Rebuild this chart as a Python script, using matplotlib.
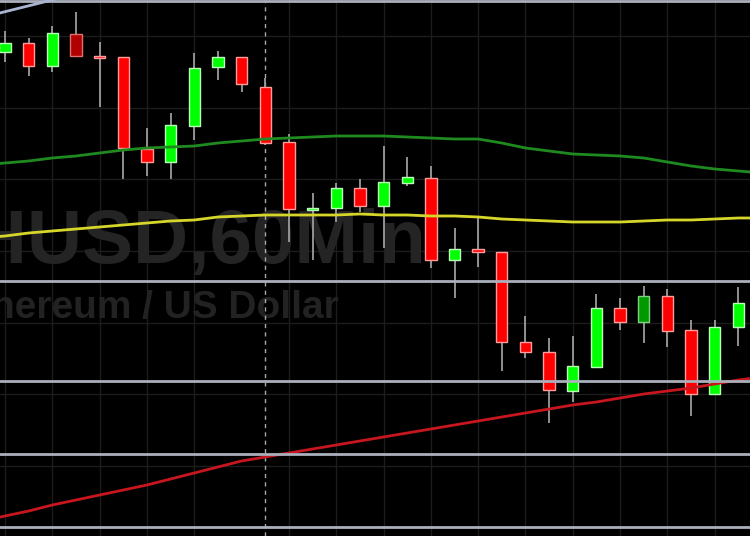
import numpy as np
import matplotlib
matplotlib.use('Agg')
from matplotlib import pyplot as plt

# hourly candles (USD)
opens  = [1874, 1878.5, 1867, 1883, 1872, 1871.5, 1825.5, 1819, 1837, 1866.5, 1871.5, 1856.5,
          1829, 1795, 1796, 1806, 1797, 1808.5, 1811, 1770, 1775.5, 1774, 1729, 1724,
          1704.5, 1716.5, 1746, 1739, 1752, 1735, 1703, 1736.5]
highs  = [1884.5, 1881, 1887, 1894, 1879, 1871.5, 1836, 1843.5, 1873.5, 1874.5, 1871.5, 1861,
          1833, 1803.5, 1808.5, 1810.5, 1827, 1821.5, 1817, 1786, 1791, 1774, 1742, 1731,
          1732, 1753, 1751, 1757, 1755.5, 1740, 1740, 1756.5]
lows   = [1869, 1862, 1864, 1872, 1846.5, 1810.5, 1812, 1810.5, 1830, 1860, 1854, 1827.5,
          1779, 1770, 1789, 1794, 1776, 1807, 1766, 1751, 1766.5, 1714.5, 1721, 1688.5,
          1699, 1716, 1735, 1728.5, 1726.5, 1692, 1703, 1727]
closes = [1878.5, 1867, 1883.5, 1872, 1871, 1826, 1819, 1837.5, 1866, 1871.5, 1858, 1828.5,
          1795.5, 1796, 1806, 1797, 1809, 1811.5, 1770, 1775.5, 1774, 1729, 1724, 1705,
          1717, 1746, 1739, 1752, 1734.5, 1703, 1736.5, 1748.5]

# moving averages, one value per bar plus one beyond each edge
ma_green = [1817.5, 1818.5, 1819.5, 1821, 1822, 1823.5, 1825, 1826, 1826.5, 1827, 1828.5, 1829.5,
            1830.5, 1831, 1831.5, 1832, 1832, 1832, 1831.5, 1831, 1830.5, 1830.5, 1828.5, 1826,
            1824.5, 1823, 1822.5, 1822, 1821, 1819, 1817, 1815.5, 1814.5, 1813.5]
ma_yellow = [1781, 1782, 1783.5, 1784.5, 1785.5, 1786.5, 1787.5, 1788.5, 1789.5, 1790, 1791.5, 1792,
             1792.5, 1792.5, 1792.5, 1792.5, 1793, 1792.5, 1792.5, 1792, 1792, 1791.5, 1790.5, 1790,
             1789.5, 1789, 1789, 1789, 1789.5, 1790, 1790, 1790.5, 1791, 1791]
ma_red = [1639.5, 1642, 1644.5, 1647.5, 1650, 1652.5, 1655, 1657.5, 1660.5, 1663.5, 1666.5, 1669.5,
          1671.5, 1673.5, 1675.5, 1677.5, 1679.5, 1681.5, 1683.5, 1685.5, 1687.5, 1689.5, 1691.5, 1693.5,
          1695.5, 1697.5, 1699, 1701, 1703, 1704.5, 1706, 1708, 1710, 1711.5]

levels = [1899.75, 1759.5, 1709.75, 1673, 1636.75]
channel_x = [-1, 3]
channel_y = [1891.2, 1903]
dim_bars = [3, 27]
session_bar = 11

o = np.array(opens); h = np.array(highs); l = np.array(lows); c = np.array(closes)
x = np.arange(len(o))
xm = np.arange(-1, len(o) + 1)

fig = plt.figure(figsize=(7.5, 5.36), dpi=100, facecolor='black')
ax = fig.add_axes([0, 0, 1, 1])
ax.set_facecolor('black')
ax.set_xlim(-0.211, 31.49)
ax.set_ylim(1632, 1900)

# grid
for gx in x[::2]:
    if gx != 10:
        ax.axvline(gx, color='#1c1c1c', lw=1, zorder=0)
for gy in np.arange(1882, 1625, -35.85):
    ax.axhline(gy, color='#1c1c1c', lw=1, zorder=0)
ax.axvline(session_bar, color='#a8a8a8', lw=1, dashes=(3, 3), zorder=0.8)

# watermark
ax.text(0.569, 0.509, 'ETHUSD,60Min', transform=ax.transAxes, ha='right', va='baseline',
        fontsize=55, fontweight='bold', family='Liberation Sans', color='#242424', zorder=0.5)
ax.text(0.451, 0.407, 'Ethereum / US Dollar', transform=ax.transAxes, ha='right', va='baseline',
        fontsize=28, fontweight='bold', family='Liberation Sans', color='#222222', zorder=0.5)

# candles
up = c >= o
body_lo = np.minimum(o, c)
body_h = np.maximum(np.abs(c - o), 1.0)
face = np.where(up, '#00ff00', '#ff0000').astype(object)
edge = np.where(up, '#b8ffb8', '#ff9c9c').astype(object)
for i in dim_bars:
    face[i] = '#009a00' if up[i] else '#b00000'
    edge[i] = '#80d080' if up[i] else '#e07070'
ax.vlines(x, l, h, color='#9c9c9c', lw=1.3, zorder=1.5)
ax.bar(x, body_h, bottom=body_lo, width=0.48, color=list(face), edgecolor=list(edge),
       linewidth=1, zorder=2)

# indicator lines
ax.plot(xm, ma_green, color='#1f8a1f', lw=2, zorder=3)
ax.plot(xm, ma_yellow, color='#d6d62a', lw=2, zorder=3)
ax.plot(xm, ma_red, color='#c8161e', lw=2, zorder=3)
for lv in levels:
    ax.axhline(lv, color='#aab0bc', lw=2, zorder=3)
ax.plot(channel_x, channel_y, color='#aab4d0', lw=2, zorder=3)

ax.set_xticks([]); ax.set_yticks([])
for s in ax.spines.values():
    s.set_visible(False)

fig.savefig('out.png', dpi=100, facecolor='black')
